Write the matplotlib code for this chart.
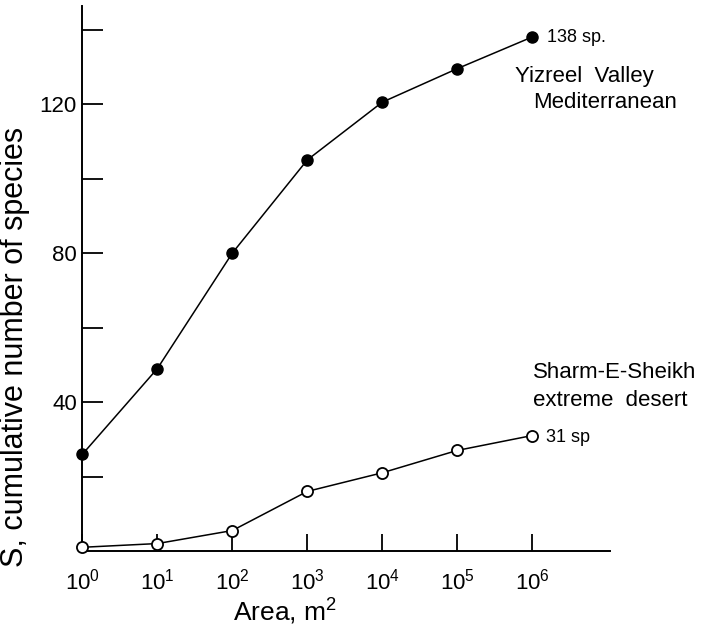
import matplotlib
matplotlib.use("Agg")
import matplotlib.pyplot as plt
import numpy as np

plt.rcParams['font.family'] = ['Liberation Sans', 'DejaVu Sans']
plt.rcParams['mathtext.fontset'] = 'custom'
plt.rcParams['mathtext.rm'] = 'Liberation Sans'
plt.rcParams['mathtext.default'] = 'regular'

# data
area = [1e0, 1e1, 1e2, 1e3, 1e4, 1e5, 1e6]
yizreel = [26, 49, 80, 105, 120.5, 129.5, 138]
sharm = [1, 2, 5.5, 16, 21, 27, 31]
x_ticks = [1e0, 1e1, 1e2, 1e3, 1e4, 1e5, 1e6]
x_tick_labels = ['$10^{%d}$' % i for i in range(7)]
y_major = [40, 80, 120]
y_minor = [20, 60, 100, 140]

fig = plt.figure(figsize=(7.02, 6.27), dpi=100)
ax = fig.add_axes([0.1175, 0.1212, 0.7514, 0.869])

ax.plot(area, yizreel, color='black', lw=1.1, marker='o', markersize=8,
        markerfacecolor='black', markeredgecolor='black', clip_on=False, zorder=3)
ax.plot(area, sharm, color='black', lw=1.1, marker='o', markersize=8,
        markerfacecolor='white', markeredgecolor='black', markeredgewidth=1.3,
        clip_on=False, zorder=3)

ax.set_xscale('log')
ax.set_xlim(1, 10**7.04)
ax.set_ylim(0, 146.3)

ax.set_xticks(x_ticks)
ax.set_xticklabels(x_tick_labels, fontsize=16)
ax.xaxis.set_minor_locator(matplotlib.ticker.NullLocator())
ax.set_yticks(y_major)
ax.set_yticks(y_minor, minor=True)
ax.set_yticklabels([str(v) for v in y_major], fontsize=16)

ax.tick_params(axis='x', direction='in', length=12, width=1.3, pad=13)
ax.tick_params(axis='y', which='both', direction='in', length=15, width=1.3, pad=4)

for s in ['top', 'right']:
    ax.spines[s].set_visible(False)
for s in ['left', 'bottom']:
    ax.spines[s].set_linewidth(1.4)

ax.set_xlabel('Area, m$^2$', fontsize=19)
ax.xaxis.set_label_coords(0.384, -0.084)
ax.set_ylabel('S, cumulative number of species', fontsize=22)
ax.yaxis.set_label_coords(-0.1, 0.375)

# annotations
ax.annotate('138 sp.', xy=(area[-1], yizreel[-1]), xytext=(10.5, 0),
            textcoords='offset points', fontsize=13, va='center', ha='left',
            annotation_clip=False)
ax.annotate('31 sp', xy=(area[-1], sharm[-1]), xytext=(10, -1.5),
            textcoords='offset points', fontsize=13, va='center', ha='left',
            annotation_clip=False)
ax.text(10**5.773, 127.5, 'Yizreel  Valley', fontsize=16, ha='left', va='center', clip_on=False)
ax.text(10**6.013, 120.3, 'Mediterranean', fontsize=16, ha='left', va='center', clip_on=False)
ax.text(10**6.013, 47.8, 'Sharm-E-Sheikh', fontsize=16, ha='left', va='center', clip_on=False)
ax.text(10**6.013, 40.5, 'extreme  desert', fontsize=16, ha='left', va='center', clip_on=False)

fig.savefig('out.png', dpi=100)
